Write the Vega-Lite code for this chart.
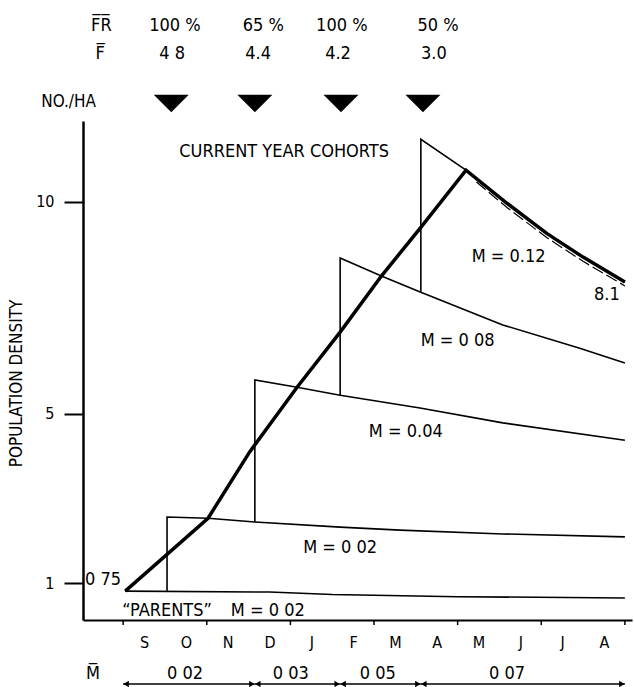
{
  "$schema": "https://vega.github.io/schema/vega-lite/v6.json",
  "width": 549,
  "height": 499,
  "autosize": {"type": "none"},
  "padding": {"left": 83, "top": 121, "right": 2, "bottom": 67},
  "background": "white",
  "config": {
    "view": {"stroke": null},
    "font": "DejaVu Sans Condensed, Liberation Sans Narrow, DejaVu Sans, sans-serif",
    "text": {"font": "DejaVu Sans Condensed, Liberation Sans Narrow, DejaVu Sans, sans-serif", "fontSize": 18, "color": "black"},
    "axis": {"labelFont": "DejaVu Sans Condensed, Liberation Sans Narrow, DejaVu Sans, sans-serif", "titleFont": "DejaVu Sans Condensed, Liberation Sans Narrow, DejaVu Sans, sans-serif"}
  },
  "datasets": {
    "curves": [
      {"series": "parents", "i": 0, "t": 0.05, "v": 0.81},
      {"series": "parents", "i": 1, "t": 3.5, "v": 0.79},
      {"series": "parents", "i": 2, "t": 5.0, "v": 0.73},
      {"series": "parents", "i": 3, "t": 8.0, "v": 0.68},
      {"series": "parents", "i": 4, "t": 12.0, "v": 0.65},
      {"series": "c1", "i": 0, "t": 1.05, "v": 0.8},
      {"series": "c1", "i": 1, "t": 1.05, "v": 2.56},
      {"series": "c1", "i": 2, "t": 2.03, "v": 2.53},
      {"series": "c1", "i": 3, "t": 3.15, "v": 2.44},
      {"series": "c1", "i": 4, "t": 5.19, "v": 2.32},
      {"series": "c1", "i": 5, "t": 6.62, "v": 2.25},
      {"series": "c1", "i": 6, "t": 9.08, "v": 2.16},
      {"series": "c1", "i": 7, "t": 12.0, "v": 2.09},
      {"series": "c2", "i": 0, "t": 3.15, "v": 2.44},
      {"series": "c2", "i": 1, "t": 3.15, "v": 5.79},
      {"series": "c2", "i": 2, "t": 4.16, "v": 5.62},
      {"series": "c2", "i": 3, "t": 5.19, "v": 5.43},
      {"series": "c2", "i": 4, "t": 7.1, "v": 5.13},
      {"series": "c2", "i": 5, "t": 9.08, "v": 4.78},
      {"series": "c2", "i": 6, "t": 12.0, "v": 4.37},
      {"series": "c3", "i": 0, "t": 5.19, "v": 5.43},
      {"series": "c3", "i": 1, "t": 5.19, "v": 8.67},
      {"series": "c3", "i": 2, "t": 6.19, "v": 8.24},
      {"series": "c3", "i": 3, "t": 7.12, "v": 7.86},
      {"series": "c3", "i": 4, "t": 9.08, "v": 7.09},
      {"series": "c3", "i": 5, "t": 10.92, "v": 6.54},
      {"series": "c3", "i": 6, "t": 12.0, "v": 6.19},
      {"series": "c4", "i": 0, "t": 7.12, "v": 7.86},
      {"series": "c4", "i": 1, "t": 7.12, "v": 11.47},
      {"series": "c4", "i": 2, "t": 8.2, "v": 10.74},
      {"series": "c4", "i": 3, "t": 9.18, "v": 9.96},
      {"series": "c4", "i": 4, "t": 10.13, "v": 9.25},
      {"series": "c4", "i": 5, "t": 11.0, "v": 8.69},
      {"series": "c4", "i": 6, "t": 12.0, "v": 8.1}
    ],
    "total": [
      {"i": 0, "t": 0.05, "v": 0.81},
      {"i": 1, "t": 2.03, "v": 2.53},
      {"i": 2, "t": 3.03, "v": 4.1},
      {"i": 3, "t": 4.16, "v": 5.62},
      {"i": 4, "t": 5.19, "v": 6.92},
      {"i": 5, "t": 6.19, "v": 8.26},
      {"i": 6, "t": 7.12, "v": 9.39},
      {"i": 7, "t": 8.2, "v": 10.74},
      {"i": 8, "t": 9.18, "v": 9.96},
      {"i": 9, "t": 10.13, "v": 9.25},
      {"i": 10, "t": 11.0, "v": 8.69},
      {"i": 11, "t": 12.0, "v": 8.1}
    ],
    "double": [
      {"i": 0, "t": 8.45, "v": 10.46},
      {"i": 1, "t": 9.18, "v": 9.86},
      {"i": 2, "t": 10.13, "v": 9.15},
      {"i": 3, "t": 11.0, "v": 8.59},
      {"i": 4, "t": 12.0, "v": 8.01}
    ],
    "monthTicks": [
      {"t": 0}, {"t": 2}, {"t": 4}, {"t": 6}, {"t": 8}, {"t": 10}, {"t": 12}
    ],
    "harvests": [
      {"t": 1.15, "v": 12.31},
      {"t": 3.15, "v": 12.31},
      {"t": 5.21, "v": 12.31},
      {"t": 7.17, "v": 12.31}
    ],
    "periods": [
      {"t": 0.0, "t2": 3.15, "v": -1.38},
      {"t": 3.15, "t2": 5.19, "v": -1.38},
      {"t": 5.19, "t2": 7.12, "v": -1.38},
      {"t": 7.12, "t2": 12.0, "v": -1.38}
    ],
    "notes": [
      {"t": 3.85, "v": 11.17, "text": "CURRENT YEAR COHORTS"},
      {"t": 9.22, "v": 8.69, "text": "M = 0.12"},
      {"t": 11.57, "v": 7.8, "text": "8.1"},
      {"t": 8.0, "v": 6.7, "text": "M = 0 08"},
      {"t": 6.76, "v": 4.56, "text": "M = 0.04"},
      {"t": 5.19, "v": 1.83, "text": "M = 0 02"},
      {"t": -0.48, "v": 1.07, "text": "0 75"},
      {"t": 1.05, "v": 0.34, "text": "“PARENTS”"},
      {"t": 3.46, "v": 0.34, "text": "M = 0 02"},
      {"t": -0.52, "v": 14.15, "text": "F̅R̅"},
      {"t": 1.24, "v": 14.15, "text": "100 %"},
      {"t": 3.35, "v": 14.15, "text": "65 %"},
      {"t": 5.23, "v": 14.15, "text": "100 %"},
      {"t": 7.53, "v": 14.15, "text": "50 %"},
      {"t": -0.55, "v": 13.48, "text": "F̅"},
      {"t": 1.17, "v": 13.48, "text": "4 8"},
      {"t": 3.23, "v": 13.48, "text": "4.4"},
      {"t": 5.14, "v": 13.48, "text": "4.2"},
      {"t": 7.43, "v": 13.48, "text": "3.0"},
      {"t": -0.72, "v": -1.15, "text": "M̅"},
      {"t": 1.48, "v": -1.15, "text": "0 02"},
      {"t": 4.01, "v": -1.15, "text": "0 03"},
      {"t": 6.09, "v": -1.15, "text": "0 05"},
      {"t": 9.18, "v": -1.15, "text": "0 07"}
    ],
    "unit": [
      {"t": -0.65, "v": 12.34, "text": "NO./HA"}
    ]
  },
  "layer": [
    {
      "data": {"name": "curves"},
      "mark": {"type": "line", "color": "black", "strokeWidth": 1.6, "interpolate": "linear"},
      "encoding": {
        "x": {
          "field": "t", "type": "quantitative",
          "scale": {"domain": [-0.96, 12.17], "nice": false, "zero": false},
          "axis": {
            "values": [0.5, 1.5, 2.5, 3.5, 4.5, 5.5, 6.5, 7.5, 8.5, 9.5, 10.5, 11.5],
            "labelExpr": "['S','O','N','D','J','F','M','A','M','J','J','A'][floor(datum.value)]",
            "ticks": false,
            "domainColor": "black", "domainWidth": 2,
            "labelFontSize": 16, "labelColor": "black", "labelPadding": 14,
            "labelFlush": false, "labelOverlap": false,
            "grid": false, "title": null
          }
        },
        "y": {
          "field": "v", "type": "quantitative",
          "scale": {"domain": [0.13, 11.9], "nice": false, "zero": false},
          "axis": {
            "values": [1, 5, 10],
            "tickSize": 19, "tickWidth": 2, "tickColor": "black",
            "domainColor": "black", "domainWidth": 2.5,
            "labelFontSize": 16, "labelColor": "black", "labelPadding": 10,
            "grid": false,
            "title": "POPULATION DENSITY",
            "titleFontSize": 17, "titleFontWeight": "normal", "titleColor": "black",
            "titleX": -67, "titleY": 262, "titleAngle": 270,
            "titleAlign": "center", "titleBaseline": "middle"
          }
        },
        "detail": {"field": "series", "type": "nominal"},
        "order": {"field": "i", "type": "quantitative"}
      }
    },
    {
      "data": {"name": "monthTicks"},
      "mark": {"type": "rule", "color": "black", "strokeWidth": 1.5},
      "encoding": {
        "x": {"field": "t", "type": "quantitative"},
        "y": {"datum": 0.13},
        "y2": {"datum": 0.01}
      }
    },
    {
      "data": {"name": "total"},
      "mark": {"type": "line", "color": "black", "strokeWidth": 3.5},
      "encoding": {
        "x": {"field": "t", "type": "quantitative"},
        "y": {"field": "v", "type": "quantitative"},
        "order": {"field": "i", "type": "quantitative"}
      }
    },
    {
      "data": {"name": "double"},
      "mark": {"type": "line", "color": "black", "strokeWidth": 1.2, "strokeDash": [12, 4]},
      "encoding": {
        "x": {"field": "t", "type": "quantitative"},
        "y": {"field": "v", "type": "quantitative"},
        "order": {"field": "i", "type": "quantitative"}
      }
    },
    {
      "data": {"name": "harvests"},
      "mark": {"type": "point", "shape": "M-1,-0.5L1,-0.5L0,0.5Z", "filled": true, "color": "black", "opacity": 1, "size": 1225},
      "encoding": {
        "x": {"field": "t", "type": "quantitative"},
        "y": {"field": "v", "type": "quantitative"}
      }
    },
    {
      "data": {"name": "periods"},
      "mark": {"type": "rule", "color": "black", "strokeWidth": 1.5},
      "encoding": {
        "x": {"field": "t", "type": "quantitative"},
        "x2": {"field": "t2"},
        "y": {"field": "v", "type": "quantitative"}
      }
    },
    {
      "data": {"name": "periods"},
      "mark": {"type": "point", "shape": "triangle-left", "filled": true, "color": "black", "opacity": 1, "size": 40, "xOffset": 3},
      "encoding": {
        "x": {"field": "t", "type": "quantitative"},
        "y": {"field": "v", "type": "quantitative"}
      }
    },
    {
      "data": {"name": "periods"},
      "mark": {"type": "point", "shape": "triangle-right", "filled": true, "color": "black", "opacity": 1, "size": 40, "xOffset": -3},
      "encoding": {
        "x": {"field": "t2", "type": "quantitative"},
        "y": {"field": "v", "type": "quantitative"}
      }
    },
    {
      "data": {"name": "notes"},
      "mark": {"type": "text", "align": "center", "baseline": "middle"},
      "encoding": {
        "x": {"field": "t", "type": "quantitative"},
        "y": {"field": "v", "type": "quantitative"},
        "text": {"field": "text"}
      }
    },
    {
      "data": {"name": "unit"},
      "mark": {"type": "text", "align": "right", "baseline": "middle", "fontSize": 17},
      "encoding": {
        "x": {"field": "t", "type": "quantitative"},
        "y": {"field": "v", "type": "quantitative"},
        "text": {"field": "text"}
      }
    }
  ]
}
